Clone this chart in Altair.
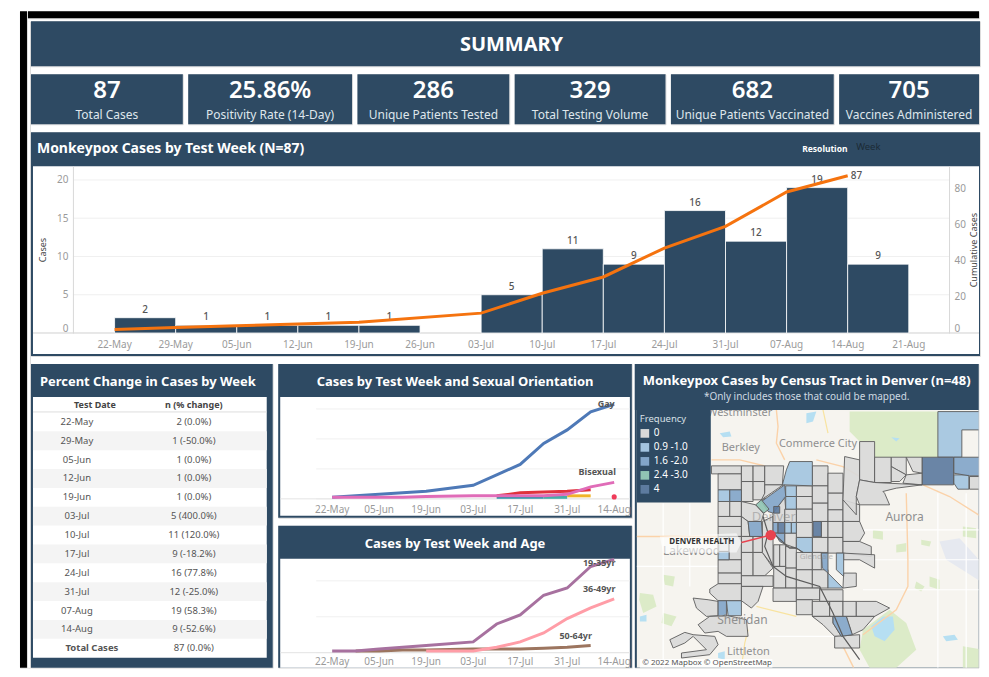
import altair as alt
import pandas as pd

FONT = "Noto Sans"
NAVY = "#2e4a63"
GREY_TXT = "#9a9a9a"
DARK_TXT = "#555555"

# ---------- KPI ----------
KPI_VALUES = ["87", "25.86%", "286", "329", "682", "705"]
KPI_LABELS = ["Total Cases", "Positivity Rate (14-Day)", "Unique Patients Tested",
              "Total Testing Volume", "Unique Patients Vaccinated", "Vaccines Administered"]
KPI_WIDTHS = [152, 164, 152, 151, 163, 140]

# ---------- Weekly ----------
WEEKS = ["2022-05-22", "2022-05-29", "2022-06-05", "2022-06-12", "2022-06-19", "2022-07-03",
         "2022-07-10", "2022-07-17", "2022-07-24", "2022-07-31", "2022-08-07", "2022-08-14"]
CASES = [2, 1, 1, 1, 1, 5, 11, 9, 16, 12, 19, 9]
CUMULATIVE = [2, 3, 4, 5, 6, 11, 22, 31, 47, 59, 78, 87]
MAIN_TICKS = ["2022-05-22", "2022-05-29", "2022-06-05", "2022-06-12", "2022-06-19", "2022-06-26", "2022-07-03",
              "2022-07-10", "2022-07-17", "2022-07-24", "2022-07-31", "2022-08-07", "2022-08-14", "2022-08-21"]
SMALL_TICKS = ["2022-05-22", "2022-06-05", "2022-06-19", "2022-07-03", "2022-07-17", "2022-07-31", "2022-08-14"]

# ---------- Table ----------
TABLE_DATES = ["22-May", "29-May", "05-Jun", "12-Jun", "19-Jun", "03-Jul", "10-Jul", "17-Jul", "24-Jul",
               "31-Jul", "07-Aug", "14-Aug"]
TABLE_PCT = ["0.0%", "-50.0%", "0.0%", "0.0%", "0.0%", "400.0%", "120.0%", "-18.2%", "77.8%", "-25.0%",
             "58.3%", "-52.6%"]

# ---------- Sexual orientation ----------
ORIENT = {
    "Gay": [1, 2, 3, 4, 5, 9, 16, 23, 37, 46, 58, 63],
    "Series C": [None, None, None, None, None, None, 1, 1, 1, None, None, None],
    "Series D": [None, None, None, None, None, None, None, None, 1, 1, None, None],
    "Series E": [None, None, None, None, None, None, None, None, None, 2, 2, None],
    "Series F": [None, None, None, None, None, None, 2, 4, 4.5, 5, 6, None],
    "Bisexual": [1, 1, 1, 1, 1.5, 2, 2, 2, 2, 3, 8, 11],
}
ORIENT_COLORS = ["#4e79b7", "#2a93a8", "#45ada8", "#f0b429", "#e0323c", "#e06cb8"]
ORIENT_POINT = {"week": ["2022-08-14"], "value": [1.3]}

# ---------- Age ----------
AGE = {
    "50-64yr": [None, 1, 1, 1.5, 1.5, 2, 2, 2, 2.5, 3, 4, None],
    "19-35yr": [1, 1, 2, 3, 4, 6, 16, 21, 32, 36, 48, 52],
    "36-49yr": [None, None, None, None, 1, 1, 3, 6, 11, 19, 25, 30],
}
AGE_COLORS = ["#9c755f", "#a7719f", "#ff9da7"]

# ---------- Map (coordinates in map-image units) ----------
MAP_BG = [(21, 150), (1074, 150), (1074, 924), (21, 924)]
PARKS = [
    [(660, 155), (925, 155), (925, 292), (735, 292), (735, 245), (690, 245), (660, 215)],
    [(700, 810), (780, 750), (830, 790), (860, 870), (800, 924), (720, 924), (690, 870)],
    [(875, 540), (905, 545), (900, 560), (875, 555)],
    [(800, 555), (830, 550), (830, 575), (800, 578)],
    [(730, 510), (760, 515), (760, 540), (730, 535)],
    [(1000, 500), (1040, 505), (1040, 535), (1000, 530)],
    [(30, 700), (70, 705), (80, 740), (40, 760), (28, 720)],
    [(100, 645), (135, 650), (130, 680), (105, 675)],
    [(900, 650), (930, 660), (930, 690), (900, 680)],
    [(860, 665), (885, 680), (875, 695), (855, 685)],
    [(1000, 860), (1060, 870), (1074, 924), (1000, 924)],
    [(100, 760), (140, 770), (125, 800), (95, 790)],
]
WATER = [
    [(725, 800), (760, 770), (790, 770), (795, 810), (765, 845), (735, 830)],
    [(940, 830), (975, 825), (985, 840), (950, 845)],
    [(30, 770), (50, 765), (50, 785), (30, 785)],
    [(270, 220), (300, 215), (305, 230), (280, 232)],
    [(530, 160), (560, 155), (550, 185), (530, 190)],
    [(785, 232), (810, 235), (800, 245)],
    [(265, 880), (285, 875), (285, 900), (265, 895)],
]
LAVENDER = [[(930, 545), (990, 535), (1040, 590), (1074, 640), (1074, 680), (1030, 650), (950, 600)]]
ROADS = [
    [(440, 150), (445, 200), (440, 250), (465, 300)],
    [(245, 300), (330, 300), (405, 318)],
    [(560, 300), (640, 320), (690, 350)],
    [(21, 530), (355, 530)],
    [(880, 375), (960, 410), (1074, 482)],
    [(830, 400), (835, 600), (835, 680), (800, 750), (700, 825)],
    [(640, 860), (672, 924)],
]
MINOR_ROADS = [
    [(700, 510), (1074, 510)], [(700, 600), (1074, 600)], [(700, 690), (1074, 690)],
    [(925, 400), (925, 924)], [(1010, 400), (1010, 924)], [(21, 620), (265, 620)],
    [(100, 430), (100, 924)], [(180, 430), (180, 680)], [(420, 830), (620, 830)],
]
YELLOW_ROADS = [
    [(355, 810), (345, 850), (335, 924)], [(580, 150), (595, 220)], [(380, 740), (500, 770)],
]
TRACT_0 = [
    [(245, 318), (335, 318), (335, 342), (245, 342)],
    [(265, 342), (335, 342), (335, 390), (265, 390)],
    [(335, 318), (370, 318), (370, 365), (335, 365)],
    [(370, 318), (405, 318), (405, 365), (370, 365)],
    [(335, 365), (370, 365), (370, 425), (335, 425)],
    [(370, 365), (405, 365), (405, 420), (370, 420)],
    [(405, 318), (462, 318), (458, 375), (405, 375)],
    [(405, 375), (460, 375), (395, 420), (405, 400)],
    [(265, 425), (300, 425), (300, 470), (265, 470)],
    [(300, 425), (335, 425), (335, 470), (300, 470)],
    [(335, 425), (378, 435), (402, 462), (395, 485), (355, 485), (335, 470)],
    [(265, 470), (335, 470), (335, 500), (265, 500)],
    [(265, 500), (335, 500), (335, 530), (265, 530)],
    [(335, 470), (355, 485), (360, 530), (335, 530)],
    [(265, 530), (298, 530), (298, 575), (265, 575)],
    [(298, 530), (335, 530), (335, 600), (298, 600)],
    [(265, 600), (335, 600), (335, 640), (265, 640)],
    [(265, 640), (335, 640), (335, 672), (265, 672)],
    [(335, 530), (370, 530), (370, 578), (335, 578)],
    [(370, 530), (398, 530), (398, 578), (370, 578)],
    [(335, 578), (370, 578), (370, 648), (335, 648)],
    [(370, 578), (398, 578), (430, 625), (405, 648), (370, 648)],
    [(335, 648), (430, 648), (430, 680), (335, 680)],
    [(240, 688), (265, 672), (335, 672), (335, 723), (265, 723), (240, 700)],
    [(335, 680), (400, 680), (385, 725), (365, 745), (335, 723)],
    [(398, 485), (430, 470), (430, 620), (398, 578)],
    [(432, 555), (450, 555), (450, 620), (432, 620)],
    [(450, 555), (468, 555), (468, 620), (450, 620)],
    [(468, 560), (500, 565), (500, 625), (468, 625)],
    [(432, 620), (468, 620), (468, 685), (432, 685)],
    [(468, 625), (500, 625), (500, 685), (468, 685)],
    [(430, 685), (500, 685), (500, 725), (430, 725)],
    [(500, 378), (548, 378), (548, 410), (500, 410)],
    [(500, 410), (548, 410), (548, 448), (500, 448)],
    [(500, 448), (548, 448), (548, 488), (500, 488)],
    [(500, 488), (548, 488), (548, 533), (500, 533)],
    [(548, 318), (595, 318), (595, 378), (548, 378)],
    [(548, 378), (595, 378), (595, 430), (548, 430)],
    [(548, 430), (595, 430), (595, 485), (548, 485)],
    [(575, 485), (595, 485), (595, 533), (575, 533)],
    [(548, 533), (595, 533), (595, 578), (548, 578)],
    [(595, 340), (640, 340), (640, 400), (595, 400)],
    [(595, 400), (640, 400), (640, 450), (595, 450)],
    [(595, 450), (640, 450), (640, 485), (595, 485)],
    [(595, 485), (640, 485), (640, 533), (595, 533)],
    [(595, 533), (640, 533), (640, 580), (595, 580)],
    [(640, 420), (690, 435), (690, 485), (640, 485)],
    [(640, 485), (690, 485), (705, 520), (690, 545), (640, 545)],
    [(640, 545), (690, 545), (725, 560), (725, 590), (640, 580)],
    [(642, 580), (735, 585), (735, 625), (690, 600), (642, 600)],
    [(500, 578), (548, 578), (548, 630), (500, 630)],
    [(548, 578), (575, 578), (575, 630), (548, 630)],
    [(500, 630), (548, 630), (548, 685), (500, 685)],
    [(548, 630), (595, 630), (595, 685), (548, 685)],
    [(642, 640), (680, 640), (680, 680), (640, 685)],
    [(500, 685), (570, 685), (570, 720), (500, 720)],
    [(570, 690), (640, 690), (640, 725), (570, 725)],
    [(430, 460), (465, 410), (468, 448), (465, 488), (430, 488)],
    [(465, 448), (500, 448), (500, 488), (465, 488)],
    [(465, 520), (500, 520), (500, 565), (465, 553)],
    [(500, 720), (548, 720), (548, 765), (500, 765)],
    [(548, 725), (600, 725), (600, 770), (548, 770)],
    [(600, 725), (640, 725), (640, 770), (600, 770)],
    [(640, 725), (680, 725), (680, 770), (640, 770)],
    [(680, 725), (740, 725), (780, 745), (735, 770), (680, 770)],
    [(548, 770), (610, 770), (610, 790), (635, 830), (615, 830), (580, 795)],
    [(650, 770), (735, 770), (700, 810), (668, 825)],
    [(615, 830), (690, 825), (690, 865), (615, 865)],
    [(190, 715), (235, 720), (265, 725), (265, 768), (230, 770), (200, 745)],
    [(205, 795), (240, 770), (295, 768), (350, 780), (355, 830), (290, 830), (265, 815), (225, 820)],
    [(120, 840), (165, 818), (190, 825), (255, 830), (265, 855), (240, 885), (155, 895), (155, 880),
     (230, 870), (190, 830), (165, 850), (130, 865)],
    [(645, 290), (690, 300), (690, 360), (680, 410), (680, 465), (640, 420)],
    [(690, 245), (735, 245), (735, 368), (690, 360)],
    [(735, 292), (785, 292), (785, 368), (735, 368)],
    [(785, 292), (830, 292), (830, 345), (785, 320)],
    [(830, 292), (878, 292), (878, 340), (850, 335)],
    [(785, 320), (830, 345), (810, 365), (785, 365)],
    [(830, 345), (878, 340), (878, 375), (820, 370)],
    [(690, 360), (735, 368), (878, 375), (800, 385), (760, 395), (765, 400), (780, 435), (690, 435), (680, 410)],
    [(1020, 350), (1068, 350), (1065, 388), (1020, 388)],
]
TRACT_1 = [
    [(458, 375), (470, 330), (480, 305), (548, 305), (548, 378), (465, 375)],
    [(265, 390), (300, 390), (300, 425), (265, 425)],
    [(468, 378), (500, 378), (500, 410), (468, 410)],
    [(468, 410), (500, 410), (500, 448), (468, 448)],
    [(465, 488), (485, 488), (485, 520), (465, 520)],
    [(485, 488), (500, 488), (500, 520), (485, 520)],
    [(500, 533), (548, 533), (548, 578), (520, 578), (500, 565)],
    [(265, 575), (298, 575), (298, 600), (265, 600)],
    [(620, 580), (642, 580), (642, 650), (620, 630)],
    [(595, 640), (640, 685), (595, 685)],
    [(290, 723), (335, 723), (335, 768), (295, 768)],
    [(925, 155), (1074, 155), (1074, 210), (997, 210), (997, 292), (925, 292)],
    [(973, 345), (1018, 345), (1018, 388), (985, 388), (973, 370)],
]
TRACT_2 = [
    [(300, 390), (335, 390), (335, 425), (300, 425)],
    [(395, 425), (465, 375), (468, 410), (430, 460), (415, 455)],
    [(355, 485), (395, 485), (398, 530), (360, 530)],
    [(430, 488), (445, 488), (445, 520), (430, 520)],
    [(575, 580), (595, 580), (595, 640), (578, 625)],
    [(265, 723), (290, 723), (290, 768), (265, 768)],
    [(610, 770), (650, 770), (668, 825), (635, 830), (610, 790)],
    [(973, 292), (1068, 292), (1068, 348), (1020, 348), (973, 340)],
    [(435, 520), (465, 520), (465, 553), (450, 545)],
]
TRACT_3 = [[(378, 435), (395, 420), (418, 448), (402, 460)]]
TRACT_4 = [
    [(878, 292), (972, 292), (972, 375), (878, 375)],
    [(432, 440), (450, 440), (450, 460), (432, 460)],
    [(445, 488), (465, 488), (465, 520), (445, 520)],
    [(550, 485), (575, 485), (575, 530), (550, 530)],
]
RIVERS = [
    [(400, 470), (415, 520), (405, 560), (430, 620), (470, 650), (570, 680), (610, 760), (640, 830), (690, 900)],
    [(430, 520), (480, 565), (500, 565), (520, 578)],
]
FREQ_LABELS = ["0", "0.9 -1.0", "1.6 -2.0", "2.4 -3.0", "4"]
FREQ_COLORS = ["#d9d9d9", "#a3c4e0", "#82a5c9", "#90c4b4", "#5d7b9f"]
PLACES = [
    ("Westminster", 330, 158, 11), ("Commerce City", 565, 252, 11), ("Berkley", 333, 265, 11),
    ("Aurora", 825, 472, 12), ("Lakewood", 185, 575, 12), ("Denver", 432, 472, 13),
    ("Sheridan", 338, 780, 12), ("Littleton", 356, 878, 11), ("Glendale", 560, 592, 8),
]
HALO = [(90, 530), (320, 520), (335, 548), (320, 578), (100, 580)]
CREDIT_BOX = [(30, 898), (428, 898), (428, 924), (30, 924)]
LEGEND_BOX = [(21, 150), (243, 150), (243, 428), (21, 428)]
HOSPITAL = [(423, 526), (335, 548)]

ONE = alt.Data(values=[{"a": 1}])
MAP_PROJ = dict(type="identity", scale=1 / 3, translate=[-5, -4])


def ms(s):
    return int(pd.Timestamp(s).value // 10**6)


def T(s, x, y, size, color, weight="normal", align="center", angle=None, opacity=1):
    kw = {}
    if angle is not None:
        kw["angle"] = angle
    return alt.Chart(ONE).mark_text(font=FONT, fontSize=size, color=color, fontWeight=weight, align=align,
                                    baseline="middle", opacity=opacity, **kw).encode(
        x=alt.value(x), y=alt.value(y), text=alt.value(s))


def R(x0, y0, x1, y1, color):
    return alt.Chart(ONE).mark_rect(color=color).encode(
        x=alt.value(x0), x2=alt.value(x1), y=alt.value(y0), y2=alt.value(y1))


def poly(points, **props):
    ring = [list(p) for p in points] + [list(points[0])]
    return {"type": "Feature", "geometry": {"type": "Polygon", "coordinates": [ring]}, "properties": props}


def line_feature(points):
    return {"type": "Feature", "geometry": {"type": "LineString", "coordinates": [list(p) for p in points]},
            "properties": {}}


def tick_labels(ticks, scale, y):
    d = pd.DataFrame({"week": ticks})
    d["label"] = pd.to_datetime(d["week"]).dt.strftime("%d-%b")
    return alt.Chart(d).mark_text(font=FONT, fontSize=10, color=GREY_TXT).encode(
        x=alt.X("week:T", scale=scale, axis=None), y=alt.value(y), text="label:N")


def yaxis(values, offset, title, pad, orient="left"):
    kw = {"titleAngle": 270} if orient == "right" else {}
    return alt.Axis(values=values, offset=offset, orient=orient, ticks=False, grid=False, labelFlush=True,
                    labelColor=GREY_TXT, labelFontSize=10, labelPadding=5, title=title, titleFontSize=9,
                    titleFontWeight="normal", titleColor="#444444", titlePadding=pad, domainColor="#d8d8d8",
                    zindex=1, **kw)


# ---------- title ----------
title_panel = alt.layer(R(0, 0, 950, 45, NAVY), T("SUMMARY", 481, 24, 20, "white", "bold")).properties(
    width=950, height=45)

# ---------- KPI ----------
kpis = []
for v, l, w in zip(KPI_VALUES, KPI_LABELS, KPI_WIDTHS):
    kpis.append(alt.layer(R(0, 0, w, 50, NAVY), T(v, w / 2, 17, 24, "white", 600),
                          T(l, w / 2, 41, 12, "#dfe6ec")).properties(width=w, height=50))
kpi_row = alt.hconcat(*kpis, spacing=3.4)

# ---------- main ----------
main_df = pd.DataFrame({"week": WEEKS, "cases": CASES, "cum": CUMULATIVE, "zero": [0] * 12})
main_df["end"] = (pd.to_datetime(main_df["week"]) + pd.Timedelta(days=7)).dt.strftime("%Y-%m-%d")
last_df = main_df.tail(1)
mx = alt.Scale(type="utc", domain=[ms("2022-05-22"), ms("2022-08-21")], range=[83.7, 878.7])
my = alt.Scale(domain=[0, 21.8], range=[201, 34])
my2 = alt.Scale(domain=[0, 92.3], range=[201, 34])
grid_df = pd.DataFrame({"v": [5, 10, 15, 20]})

main_grid = alt.Chart(grid_df).mark_rule(color="#f0f0f0").encode(
    x=alt.value(42), x2=alt.value(919), y=alt.Y("v:Q", scale=my, axis=None))
main_bars = alt.Chart(main_df).mark_rect(color=NAVY, stroke="white", strokeWidth=0.8).encode(
    x=alt.X("week:T", scale=mx, axis=None), x2="end:T",
    y=alt.Y("cases:Q", scale=my, axis=yaxis([0, 5, 10, 15, 20], -42, "Cases", 9)), y2="zero:Q")
main_lab = alt.Chart(main_df).mark_text(font=FONT, fontSize=10, color=DARK_TXT, fontWeight=500, baseline="bottom",
                                        dx=30.5, dy=-3).encode(
    x=alt.X("week:T", scale=mx, axis=None), y=alt.Y("cases:Q", stack=None, scale=my, axis=None), text="cases:Q")
main_line = alt.Chart(main_df).mark_line(color="#f5730f", strokeWidth=3).encode(
    x=alt.X("week:T", scale=mx, axis=None),
    y=alt.Y("cum:Q", scale=my2, axis=yaxis([0, 20, 40, 60, 80], -31, "Cumulative Cases", 13, "right")))
main_end = alt.Chart(last_df).mark_text(font=FONT, fontSize=10, color=DARK_TXT, fontWeight=500, align="left", dx=3).encode(
    x=alt.X("week:T", scale=mx, axis=None), y=alt.Y("cum:Q", scale=my2, axis=None), text="cum:Q")
main_panel = alt.layer(
    R(0, 0, 950, 224, NAVY), R(2, 34, 949, 222, "white"), main_grid,
    alt.Chart(ONE).mark_rule(color="#d0d0d0").encode(x=alt.value(2), x2=alt.value(949), y=alt.value(201)),
    main_bars, main_lab, main_line, main_end, tick_labels(MAIN_TICKS, mx, 213),
    T("Monkeypox Cases by Test Week (N=87)", 6, 17, 14, "white", "bold", "left"),
    T("Resolution", 772, 17, 8.5, "white", "bold", "left"),
    T("Week", 826, 15, 9.5, "#1c2a36", "normal", "left"),
).resolve_scale(y="independent").properties(width=950, height=224)

# ---------- table ----------
rows = TABLE_DATES + ["Total Cases"]
tab_df = pd.DataFrame({
    "date": rows,
    "txt": [f"{c} ({p})" for c, p in zip(CASES, TABLE_PCT)] + ["87 (0.0%)"],
    "stripe": [i % 2 == 1 for i in range(12)] + [False],
    "total": [False] * 12 + [True],
})
ty = alt.Scale(domain=rows, range=[48.5, 294], paddingInner=0, paddingOuter=0)
tab_y = alt.Y("date:N", scale=ty, sort=None, axis=None)
stripes = alt.Chart(tab_df).transform_filter("datum.stripe").mark_rect(color="#f4f4f4").encode(
    x=alt.value(2), x2=alt.value(236), y=tab_y)
tab_dates = alt.Chart(tab_df).transform_filter("!datum.total").mark_text(font=FONT, fontSize=9.5, color=DARK_TXT).encode(
    x=alt.value(46), y=tab_y, text="date:N")
tab_total = alt.Chart(tab_df).transform_filter("datum.total").mark_text(font=FONT, fontSize=9.5, color=DARK_TXT, fontWeight="bold").encode(
    x=alt.value(61), y=tab_y, text="date:N")
tab_vals = alt.Chart(tab_df).mark_text(font=FONT, fontSize=9.5, color=DARK_TXT).encode(
    x=alt.value(163), y=tab_y, text="txt:N")
table_panel = alt.layer(
    R(0, 0, 242, 304, NAVY), R(2, 33, 236, 294, "white"), stripes,
    alt.Chart(ONE).mark_rule(color="#dddddd").encode(x=alt.value(2), x2=alt.value(236), y=alt.value(48)),
    tab_dates, tab_total, tab_vals,
    T("Percent Change in Cases by Week", 117, 18, 13, "white", "bold"),
    T("Test Date", 64, 41, 9, "#444444", "bold"),
    T("n (% change)", 163, 41, 9, "#444444", "bold"),
).properties(width=242, height=304)


# ---------- small line panels ----------
def long_df(series):
    recs = []
    for name, vals in series.items():
        for w, v in zip(WEEKS, vals):
            if v is not None:
                recs.append({"week": w, "value": v, "series": name})
    return pd.DataFrame(recs)


def small_panel(series, colors, ydomain, yrange, yticks, title, h, white_bottom, label_y, labels, extra=None):
    sx = alt.Scale(type="utc", domain=[ms("2022-05-22"), ms("2022-08-14")], range=[54, 336.3])
    sy = alt.Scale(domain=ydomain, range=yrange)
    df = long_df(series)
    grid = alt.Chart(pd.DataFrame({"v": yticks})).mark_rule(color="#f0f0f0").encode(
        x=alt.value(38), x2=alt.value(352), y=alt.Y("v:Q", scale=sy, axis=None))
    lines = alt.Chart(df).mark_line(strokeWidth=3).encode(
        x=alt.X("week:T", scale=sx, axis=None),
        y=alt.Y("value:Q", scale=sy, axis=yaxis(yticks, -38, "Cumulative Cases", 4)),
        color=alt.Color("series:N", scale=alt.Scale(domain=list(series), range=colors), legend=None))
    lab_df = pd.DataFrame(labels)
    labs = []
    for _, r in lab_df.iterrows():
        labs.append(alt.Chart(pd.DataFrame([r.to_dict()])).mark_text(
            font=FONT, fontSize=9, fontWeight="bold", color=DARK_TXT, dx=r["dx"], dy=r["dy"]).encode(
            x=alt.X("week:T", scale=sx, axis=None), y=alt.Y("value:Q", scale=sy, axis=None), text="name:N"))
    parts = [R(0, 0, 354, h, NAVY), R(2, 33, 352, white_bottom, "white"), grid,
             alt.Chart(ONE).mark_rule(color="#e4e4e4").encode(x=alt.value(2), x2=alt.value(352), y=alt.value(yrange[0])),
             lines, tick_labels(SMALL_TICKS, sx, label_y)]
    if extra is not None:
        parts.append(alt.Chart(pd.DataFrame(extra)).mark_circle(color="#ef3b5a", size=26, opacity=1).encode(
            x=alt.X("week:T", scale=sx, axis=None), y=alt.Y("value:Q", scale=sy, axis=None)))
    parts += labs
    parts.append(T(title, 177, 18, 13, "white", "bold"))
    return alt.layer(*parts).properties(width=354, height=h)


orient_panel = small_panel(ORIENT, ORIENT_COLORS, [0, 68], [135, 33], [0, 20, 40, 60],
                           "Cases by Test Week and Sexual Orientation", 154, 152, 146,
                           [{"week": "2022-08-14", "value": 63, "name": "Gay", "dx": -8, "dy": 0},
                            {"week": "2022-08-14", "value": 11, "name": "Bisexual", "dx": -17, "dy": -10}],
                           extra=ORIENT_POINT)
age_panel = small_panel(AGE, AGE_COLORS, [0, 52.3], [127, 33], [0, 20, 40],
                        "Cases by Test Week and Age", 142, 142, 136,
                        [{"week": "2022-08-14", "value": 52, "name": "19-35yr", "dx": -15, "dy": 4},
                         {"week": "2022-08-14", "value": 30, "name": "36-49yr", "dx": -15, "dy": -10},
                         {"week": "2022-08-07", "value": 4, "name": "50-64yr", "dx": -15, "dy": -10}])
middle = alt.vconcat(orient_panel, age_panel, spacing=6).resolve_scale(color="independent")


# ---------- map ----------
def geo_fill(polys, color, opacity=1.0):
    return alt.Chart(alt.Data(values=[poly(p) for p in polys])).mark_geoshape(
        fill=color, fillOpacity=opacity, strokeWidth=0, clip=True).project(**MAP_PROJ)


def geo_line(lines, color, width):
    return alt.Chart(alt.Data(values=[line_feature(l) for l in lines])).mark_geoshape(
        filled=False, stroke=color, strokeWidth=width, clip=True).project(**MAP_PROJ)


tract_features = []
for label, group in zip(FREQ_LABELS, [TRACT_0, TRACT_1, TRACT_2, TRACT_3, TRACT_4]):
    tract_features += [poly(p, freq=label) for p in group]

tracts = alt.Chart(alt.Data(values=tract_features)).mark_geoshape(
    stroke="#5c5c5c", strokeWidth=0.9, fillOpacity=0.92, clip=True).encode(
    color=alt.Color("properties.freq:N",
                    scale=alt.Scale(domain=FREQ_LABELS, range=FREQ_COLORS),
                    legend=alt.Legend(orient="none", legendX=5, legendY=50, title="Frequency", titleColor="#d8e0e6",
                                      titleFontSize=9.5, titleFontWeight="normal", titlePadding=5, labelColor="white",
                                      labelFontSize=10, symbolType="square", symbolSize=75, symbolStrokeWidth=0,
                                      symbolOpacity=1, rowPadding=4, labelOffset=4, padding=0))
).project(**MAP_PROJ)

place_df = pd.DataFrame(PLACES, columns=["name", "x", "y", "size"])
place_layers = []
for _, r in place_df.iterrows():
    op = 0.55 if r["name"] in ("Denver", "Glendale") else 1
    place_layers.append(alt.Chart(pd.DataFrame([r.to_dict()])).mark_text(
        font=FONT, fontSize=float(r["size"]), color="#8f8f8f", opacity=op).encode(
        longitude="x:Q", latitude="y:Q", text="name:N").project(**MAP_PROJ))

hospital_pt = pd.DataFrame({"x": [HOSPITAL[0][0]], "y": [HOSPITAL[0][1]]})
hospital_lab = pd.DataFrame({"x": [216], "y": [548], "t": ["DENVER HEALTH"]})
credit_lab = pd.DataFrame({"x": [232], "y": [911], "t": ["© 2022 Mapbox © OpenStreetMap"]})

map_panel = alt.layer(
    R(0, 0, 344, 304, NAVY),
    geo_fill([MAP_BG], "#f6f4ef"),
    geo_fill(PARKS, "#dcebc8"),
    geo_fill(LAVENDER, "#e6e9f0"),
    geo_fill(WATER, "#b6dff2"),
    geo_line(MINOR_ROADS, "#ffffff", 1.2),
    geo_line(ROADS, "#fbd2a9", 1.4),
    geo_line(YELLOW_ROADS, "#f8e3a0", 1.2),
    *place_layers[:1],
    R(0, 0, 344, 46, NAVY),
    tracts,
    *place_layers[1:],
    geo_line(RIVERS, "#5c5c5c", 1.2),
    geo_fill([HALO], "#ffffff", 0.6),
    geo_line([HOSPITAL], "#e8434f", 1.4),
    alt.Chart(hospital_pt).mark_circle(color="#e8434f", size=110, opacity=1).encode(
        longitude="x:Q", latitude="y:Q").project(**MAP_PROJ),
    alt.Chart(hospital_lab).mark_text(font=FONT, fontSize=8, fontWeight="bold", color="#333333").encode(
        longitude="x:Q", latitude="y:Q", text="t:N").project(**MAP_PROJ),
    geo_fill([CREDIT_BOX], "#ffffff", 0.85),
    alt.Chart(credit_lab).mark_text(font=FONT, fontSize=8, color="#555555").encode(
        longitude="x:Q", latitude="y:Q", text="t:N").project(**MAP_PROJ),
    geo_fill([LEGEND_BOX], NAVY),
    T("Monkeypox Cases by Census Tract in Denver (n=48)", 172, 17, 13, "white", "bold"),
    T("*Only includes those that could be mapped.", 172, 33, 10, "#cfd9e1"),
).properties(width=344, height=304)

bottom_inner = alt.hconcat(table_panel, middle, spacing=3.5).resolve_scale(color="independent")
bottom_row = alt.hconcat(bottom_inner, map_panel, spacing=1.5).resolve_scale(color="independent")

content = alt.vconcat(title_panel, kpi_row, main_panel, bottom_row, spacing=6).resolve_scale(color="independent")
spacer = R(0, 0, 2, 647, "white").properties(width=2, height=647)
body = alt.hconcat(spacer, content, spacing=-2).resolve_scale(color="independent")
top_band = R(0, 0, 952, 7, "#000000").properties(width=952, height=7)
right = alt.vconcat(top_band, body, spacing=1).resolve_scale(color="independent")
left_band = R(0, 0, 7, 657, "#000000").properties(width=7, height=657)

chart = alt.hconcat(left_band, right, spacing=-3).resolve_scale(color="independent").properties(
    padding={"left": 11, "top": 2, "right": 0, "bottom": 0}, background="white"
).configure_view(stroke=None, strokeWidth=0).configure(font=FONT)

chart.save("out.html", embed_options={"renderer": "svg", "actions": False})
